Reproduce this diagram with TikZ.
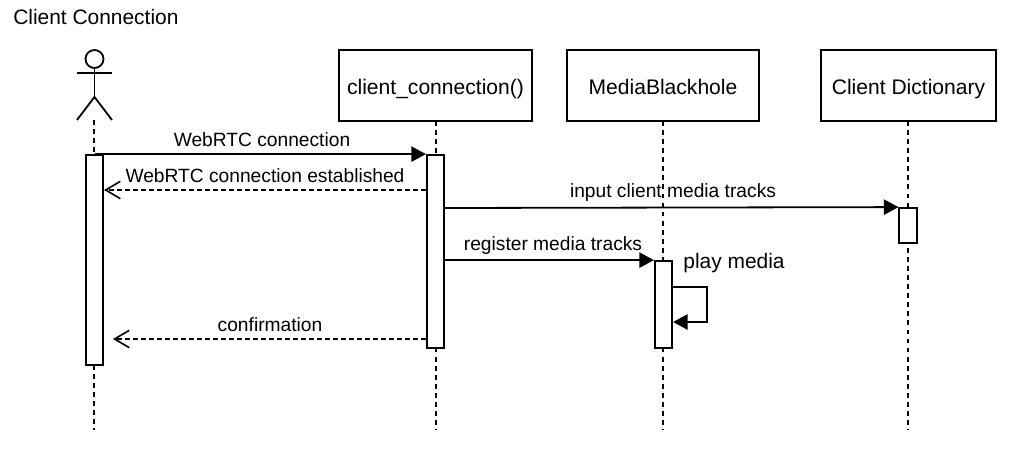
\documentclass[tikz,border=0pt]{standalone}
\usepackage{fontspec}
\setmainfont{Liberation Sans}
\usetikzlibrary{arrows.meta}
\tikzset{
	lifebox/.style={rectangle, draw, fill=white, line width=1.35pt, inner sep=0pt, minimum height=53.25pt, text height=15.5pt, text depth=2pt, font=\fontsize{15.8}{18}\selectfont},
	activation/.style={rectangle, draw, fill=white, line width=1.35pt, inner sep=0pt, minimum width=13pt},
	msglabel/.style={inner sep=0pt, font=\fontsize{14.4}{17}\selectfont},
	lifeline/.style={line width=1.35pt, dash pattern=on 3.6pt off 3.2pt},
	callmsg/.style={line width=1.35pt, -{Triangle[length=11pt,width=11.5pt]}},
	retmsg/.style={line width=1.35pt, dash pattern=on 3.4pt off 2.6pt, -{Straight Barb[length=11pt,width=13pt,line width=1.2pt]}}
}
\begin{document}
\begin{tikzpicture}[x=0.75pt,y=-0.75pt]
	\useasboundingbox (0,0) rectangle (1016,474);
	\node (title) at (13,17)	[msglabel, anchor=west, font=\fontsize{15.7}{18}\selectfont]	{Client Connection};

	% participants
	\node (head) at (94.5,59)	[circle, draw, line width=1.35pt, inner sep=0pt, minimum size=13.5pt]	{};
	\coordinate (hip) at (94.5,97);
	\coordinate (armL) at (77,73);
	\coordinate (armR) at (112,73);
	\coordinate (legL) at (77,120);
	\coordinate (legR) at (112,120);
	\node (call) at (435.5,85.5)	[lifebox, minimum width=144.75pt]	{client\_connection()};
	\node (hole) at (663,85.5)	[lifebox, minimum width=144pt]	{MediaBlackhole};
	\node (dict) at (908.5,85.5)	[lifebox, minimum width=131.25pt]	{Client Dictionary};
	\draw[line width=1.35pt] (head) -- (hip);
	\draw[line width=1.35pt] (armL) -- (armR);
	\draw[line width=1.35pt] (legL) -- (hip) -- (legR);

	% lifelines
	\coordinate (topA) at (94,120);
	\coordinate (topC) at (436,121);
	\coordinate (topH) at (663,121);
	\coordinate (topD) at (908,121);
	\coordinate (endA) at (94,430);
	\coordinate (endC) at (436,430);
	\coordinate (endH) at (663,430);
	\coordinate (endD) at (908,430);
	\draw[lifeline] (topA) -- (endA);
	\draw[lifeline] (topC) -- (endC);
	\draw[lifeline] (topH) -- (endH);
	\draw[lifeline] (topD) -- (endD);

	% activations
	\node (actA) at (94.5,260)	[activation, minimum height=157.5pt]	{};
	\node (actC) at (435.5,251.5)	[activation, minimum height=144.75pt]	{};
	\node (actD) at (908,225.5)	[activation, minimum height=26.25pt]	{};
	\node (actH) at (663.5,304.5)	[activation, minimum height=65.25pt]	{};

	% messages
	\coordinate (m2) at (0,190);
	\coordinate (m5) at (0,339);
	\coordinate (m3) at (0,208);
	\coordinate (loopT) at (707,287);
	\coordinate (loopB) at (707,322);
	\coordinate (backE) at (113,339);
	\draw[callmsg] (actA.north) -- (actC.north west);
	\draw[retmsg] (actC.west |- m2) -- (actA.east |- m2);
	\draw[callmsg] (actC.east |- m3) -- (actD.north west);
	\draw[callmsg] (actC.east |- actH.north) -- (actH.north west);
	\draw[line width=1.35pt, -{Triangle[length=11pt,width=11.5pt]}] (actH.east |- loopT) -- (loopT) -- (loopB) -- (actH.east |- loopB);
	\draw[retmsg] (actC.west |- m5) -- (backE);

	% labels
	\node (lbl1) at (262,140)	[msglabel]	{WebRTC connection};
	\node (lbl2) at (265,176)	[msglabel]	{WebRTC connection established};
	\node (lbl3) at (673,193)	[msglabel]	{input client media tracks};
	\node (lbl4) at (553,246)	[msglabel]	{register media tracks};
	\node (lbl5) at (734,263)	[msglabel, font=\fontsize{15.7}{18}\selectfont]	{play media};
	\node (lbl6) at (270,325)	[msglabel]	{confirmation};
\end{tikzpicture}
\end{document}
